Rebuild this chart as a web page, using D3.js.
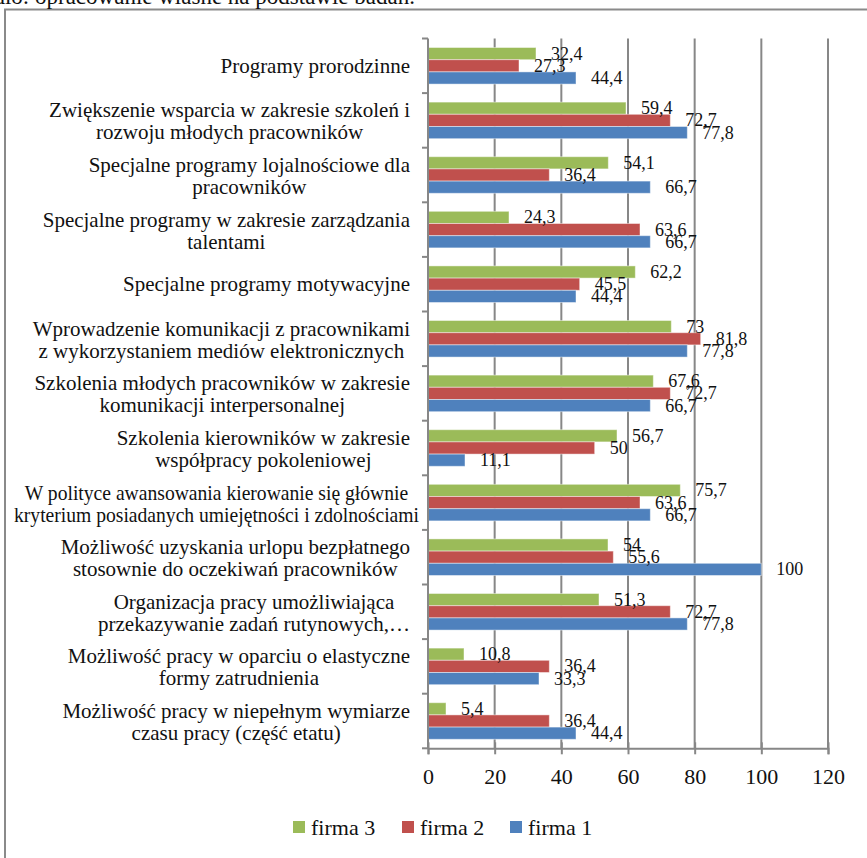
<!DOCTYPE html>
<html>
<head>
<meta charset="utf-8">
<script src="https://cdn.jsdelivr.net/npm/d3@7"></script>
<style>
  body { margin: 0; background: #fff; overflow: hidden; }
  svg { display: block; }
  svg text { font-family: "Liberation Serif", "Times New Roman", serif; }
</style>
</head>
<body>
<svg id="chart"></svg>
<script>
//Chart Data
const categories = [
  ["Programy prorodzinne"],
  ["Zwiększenie wsparcia w zakresie szkoleń i", "rozwoju młodych pracowników"],
  ["Specjalne programy lojalnościowe dla", "pracowników"],
  ["Specjalne programy w zakresie zarządzania", "talentami"],
  ["Specjalne programy motywacyjne"],
  ["Wprowadzenie komunikacji z pracownikami", "z wykorzystaniem mediów elektronicznych"],
  ["Szkolenia młodych pracowników w zakresie", "komunikacji interpersonalnej"],
  ["Szkolenia kierowników w zakresie", "współpracy pokoleniowej"],
  ["W polityce awansowania kierowanie się głównie", "kryterium posiadanych umiejętności i zdolnościami"],
  ["Możliwość uzyskania  urlopu bezpłatnego", "stosownie do oczekiwań pracowników"],
  ["Organizacja pracy umożliwiająca", "przekazywanie zadań rutynowych,…"],
  ["Możliwość pracy w oparciu o elastyczne", "formy zatrudnienia"],
  ["Możliwość pracy w niepełnym wymiarze", "czasu pracy (część etatu)"]
];
const seriesNames = ["firma 3", "firma 2", "firma 1"];
const firma3 = [32.4, 59.4, 54.1, 24.3, 62.2, 73, 67.6, 56.7, 75.7, 54, 51.3, 10.8, 5.4];
const firma2 = [27.3, 72.7, 36.4, 63.6, 45.5, 81.8, 72.7, 50, 63.6, 55.6, 72.7, 36.4, 36.4];
const firma1 = [44.4, 77.8, 66.7, 66.7, 44.4, 77.8, 66.7, 11.1, 66.7, 100, 77.8, 33.3, 44.4];
const xTicks = [0, 20, 40, 60, 80, 100, 120];
const colors = ["#9BBB59", "#C0504D", "#4F81BD"];
const sourceText = "Źródło: opracowanie własne na podstawie badań.";

const w = 867;
const h = 858;
const plotLeft = 428;
const plotRight = 828;
const plotTop = 38.5;
const plotBottom = 748.3;

const seriesValues = [firma3, firma2, firma1];
const rows = categories.map((c, i) => ({
  idx: i,
  lines: c,
  values: seriesValues.map((s, k) => ({ series: k, value: s[i] }))
}));

const chart = d3.select("#chart").attr("width", w).attr("height", h);

//Frame + source line
chart.append("rect")
     .attr("x", 5).attr("y", 9.5)
     .attr("width", 900).attr("height", 900)
     .attr("fill", "none")
     .attr("stroke", "#8a8a8a")
     .attr("stroke-width", 2);

chart.append("text")
     .attr("x", 415).attr("y", 4)
     .attr("text-anchor", "end")
     .attr("font-size", 23)
     .attr("fill", "#111")
     .text(sourceText);

//Scales
const xScale = d3.scaleLinear().domain([0, 120]).range([plotLeft, plotRight]);
const yScale = d3.scaleBand().domain(d3.range(categories.length)).range([plotTop, plotBottom]);
const step = yScale.bandwidth();
const inner = d3.scaleBand().domain(d3.range(3)).range([step * 0.165, step * 0.835]);

//Gridlines
chart.append("g")
     .selectAll("line")
     .data(xTicks.filter(t => t > 0))
     .enter()
     .append("line")
     .attr("x1", d => xScale(d)).attr("x2", d => xScale(d))
     .attr("y1", plotTop).attr("y2", plotBottom)
     .attr("stroke", "#878787")
     .attr("stroke-width", 2);

//Bars
const groups = chart.selectAll(".grp")
     .data(rows)
     .enter()
     .append("g")
     .attr("transform", d => "translate(0," + yScale(d.idx) + ")");

groups.selectAll("rect")
     .data(d => d.values)
     .enter()
     .append("rect")
     .attr("x", xScale(0))
     .attr("y", d => inner(d.series))
     .attr("width", d => xScale(d.value) - xScale(0))
     .attr("height", inner.bandwidth())
     .attr("fill", d => colors[d.series])
     .attr("stroke", "rgba(255,255,255,0.45)")
     .attr("stroke-width", 1);

groups.selectAll(".val")
     .data(d => d.values)
     .enter()
     .append("text")
     .attr("x", d => xScale(d.value) + 15)
     .attr("y", d => inner(d.series) + inner.bandwidth() / 2 + 6)
     .attr("font-size", 18)
     .attr("fill", "#111")
     .text(d => String(d.value).replace(".", ","));

//X axis
const xAxis = d3.axisBottom(xScale).tickValues(xTicks).tickSize(6).tickPadding(14);
const xg = chart.append("g")
     .attr("transform", "translate(0," + plotBottom + ")")
     .call(xAxis);
xg.select(".domain").attr("stroke", "#878787").attr("stroke-width", 2);
xg.selectAll(".tick line").attr("stroke", "#878787").attr("stroke-width", 2).attr("y1", -6);
xg.selectAll(".tick text")
  .attr("font-size", 22)
  .attr("fill", "#111");

//Y axis (category line + boundary ticks)
chart.append("line")
     .attr("x1", plotLeft).attr("x2", plotLeft)
     .attr("y1", plotTop).attr("y2", plotBottom)
     .attr("stroke", "#878787")
     .attr("stroke-width", 2);

chart.append("g")
     .selectAll("line")
     .data(d3.range(categories.length + 1))
     .enter()
     .append("line")
     .attr("x1", plotLeft - 6).attr("x2", plotLeft)
     .attr("y1", d => d < categories.length ? yScale(d) : plotBottom)
     .attr("y2", d => d < categories.length ? yScale(d) : plotBottom)
     .attr("stroke", "#878787")
     .attr("stroke-width", 2);

//Category labels
const labelRight = 410;
const maxW = 405;
groups.each(function(d){
  const g = d3.select(this);
  const n = d.lines.length;
  const base = step / 2 + 7 - (n - 1) * 10;
  const texts = d.lines.map((line, i) =>
    g.append("text")
     .attr("y", base + i * 22)
     .attr("font-size", 21)
     .attr("fill", "#111")
     .attr("text-anchor", "middle")
     .text(line));
  const widths = texts.map(t => t.node().getComputedTextLength());
  const widest = d3.max(widths);
  const k = widest > maxW ? maxW / widest : 1;
  const blockW = widest * k;
  const cx = (k < 1 ? labelRight + 9 : labelRight) - blockW / 2;
  texts.forEach((t, i) => {
    t.attr("x", cx);
    if (k < 1) {
      t.attr("textLength", widths[i] * k).attr("lengthAdjust", "spacingAndGlyphs");
    }
  });
});

//Legend
const legend = chart.append("g")
     .attr("transform", "translate(0,835)");
const legendX = [293, 402, 510];
const item = legend.selectAll("g")
     .data(seriesNames)
     .enter()
     .append("g")
     .attr("transform", (d, i) => "translate(" + legendX[i] + ",0)");
item.append("rect")
     .attr("x", 0).attr("y", -14)
     .attr("width", 12).attr("height", 12)
     .attr("fill", (d, i) => colors[i]);
item.append("text")
     .attr("x", 18).attr("y", 0)
     .attr("font-size", 22)
     .attr("fill", "#111")
     .text(d => d);
</script>
</body>
</html>
